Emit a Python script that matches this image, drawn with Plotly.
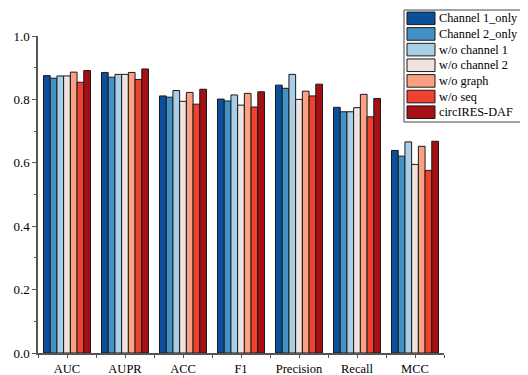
import plotly.graph_objects as go

metrics = ["AUC", "AUPR", "ACC", "F1", "Precision", "Recall", "MCC"]
series_names = ["Channel 1_only", "Channel 2_only", "w/o channel 1", "w/o channel 2",
                "w/o graph", "w/o seq", "circIRES-DAF"]
colors = ["#0b4f9a", "#4292c6", "#a8cfe5", "#efe3e0", "#fca083", "#f0412f", "#a50f15"]

ch1_only = [0.875, 0.885, 0.811, 0.801, 0.845, 0.775, 0.639]
ch2_only = [0.867, 0.870, 0.807, 0.795, 0.835, 0.761, 0.621]
wo_ch1 = [0.874, 0.879, 0.828, 0.814, 0.879, 0.761, 0.666]
wo_ch2 = [0.874, 0.879, 0.794, 0.782, 0.800, 0.774, 0.595]
wo_graph = [0.886, 0.885, 0.822, 0.819, 0.826, 0.816, 0.652]
wo_seq = [0.854, 0.863, 0.785, 0.776, 0.811, 0.745, 0.576]
full = [0.891, 0.896, 0.832, 0.824, 0.848, 0.803, 0.668]
values = [ch1_only, ch2_only, wo_ch1, wo_ch2, wo_graph, wo_seq, full]

y_ticks = [0.0, 0.2, 0.4, 0.6, 0.8, 1.0]
y_ticktext = ["0.0", "0.2", "0.4", "0.6", "0.8", "1.0"]

xpos = list(range(len(metrics)))
font = "Liberation Serif"

# page body has an 8px margin; compensate so the plot lands where the reference has it
OFF = 8
W, H = 528 - OFF, 375 - OFF
ML, MR, MT, MB = 38 - OFF, 84, 36 - OFF, 22
PW, PH = W - ML - MR, H - MT - MB


def px_x(px):
    return (px - OFF - ML) / PW


def px_y(py):
    return (H - MB - (py - OFF)) / PH


fig = go.Figure()
for name, vals, col in zip(series_names, values, colors):
    fig.add_trace(go.Bar(x=xpos, y=vals, name=name,
                         marker=dict(color=col, line=dict(color="#1a1a1a", width=1))))

# custom legend (compact, like the reference)
shapes = [dict(type="rect", xref="paper", yref="paper",
               x0=px_x(404), x1=px_x(521), y0=px_y(122), y1=px_y(10),
               fillcolor="white", line=dict(color="#444", width=1), layer="above")]
annotations = []
for i, (name, col) in enumerate(zip(series_names, colors)):
    cy = 18.3 + i * 15.65
    shapes.append(dict(type="rect", xref="paper", yref="paper",
                       x0=px_x(407), x1=px_x(435), y0=px_y(cy + 6.3), y1=px_y(cy - 6.3),
                       fillcolor=col, line=dict(color="#1a1a1a", width=1), layer="above"))
    annotations.append(dict(xref="paper", yref="paper", x=px_x(437), y=px_y(cy),
                            xanchor="left", yanchor="middle", text=name, showarrow=False,
                            font=dict(family=font, size=12.3, color="black")))

fig.update_layout(
    width=W, height=H,
    margin=dict(l=ML, r=MR, t=MT, b=MB, autoexpand=False),
    paper_bgcolor="white", plot_bgcolor="white",
    barmode="group", bargap=0.19, bargroupgap=0,
    font=dict(family=font, size=12, color="black"),
    showlegend=False,
    shapes=shapes, annotations=annotations,
    xaxis=dict(range=[-0.5, 6.5], tickmode="array", tickvals=xpos, ticktext=metrics,
               automargin=False,
               showline=True, linecolor="#555", linewidth=1.5, mirror=False,
               ticks="outside", ticklen=3, tickcolor="#555", tickwidth=1,
               showgrid=False, zeroline=False,
               minor=dict(ticks="outside", ticklen=3, tickcolor="#555", tick0=0.5, dtick=1),
               tickfont=dict(family=font, size=12.5)),
    yaxis=dict(range=[0, 1.0], tickmode="array", tickvals=y_ticks, ticktext=y_ticktext,
               automargin=False,
               showline=True, linecolor="#555", linewidth=1.5,
               ticks="outside", ticklen=4, tickcolor="#555", tickwidth=1,
               showgrid=False, zeroline=False,
               minor=dict(ticks="outside", ticklen=2, tickcolor="#555", tick0=0.1, dtick=0.2),
               tickfont=dict(family=font, size=13)),
)

fig.write_html("out.html")
